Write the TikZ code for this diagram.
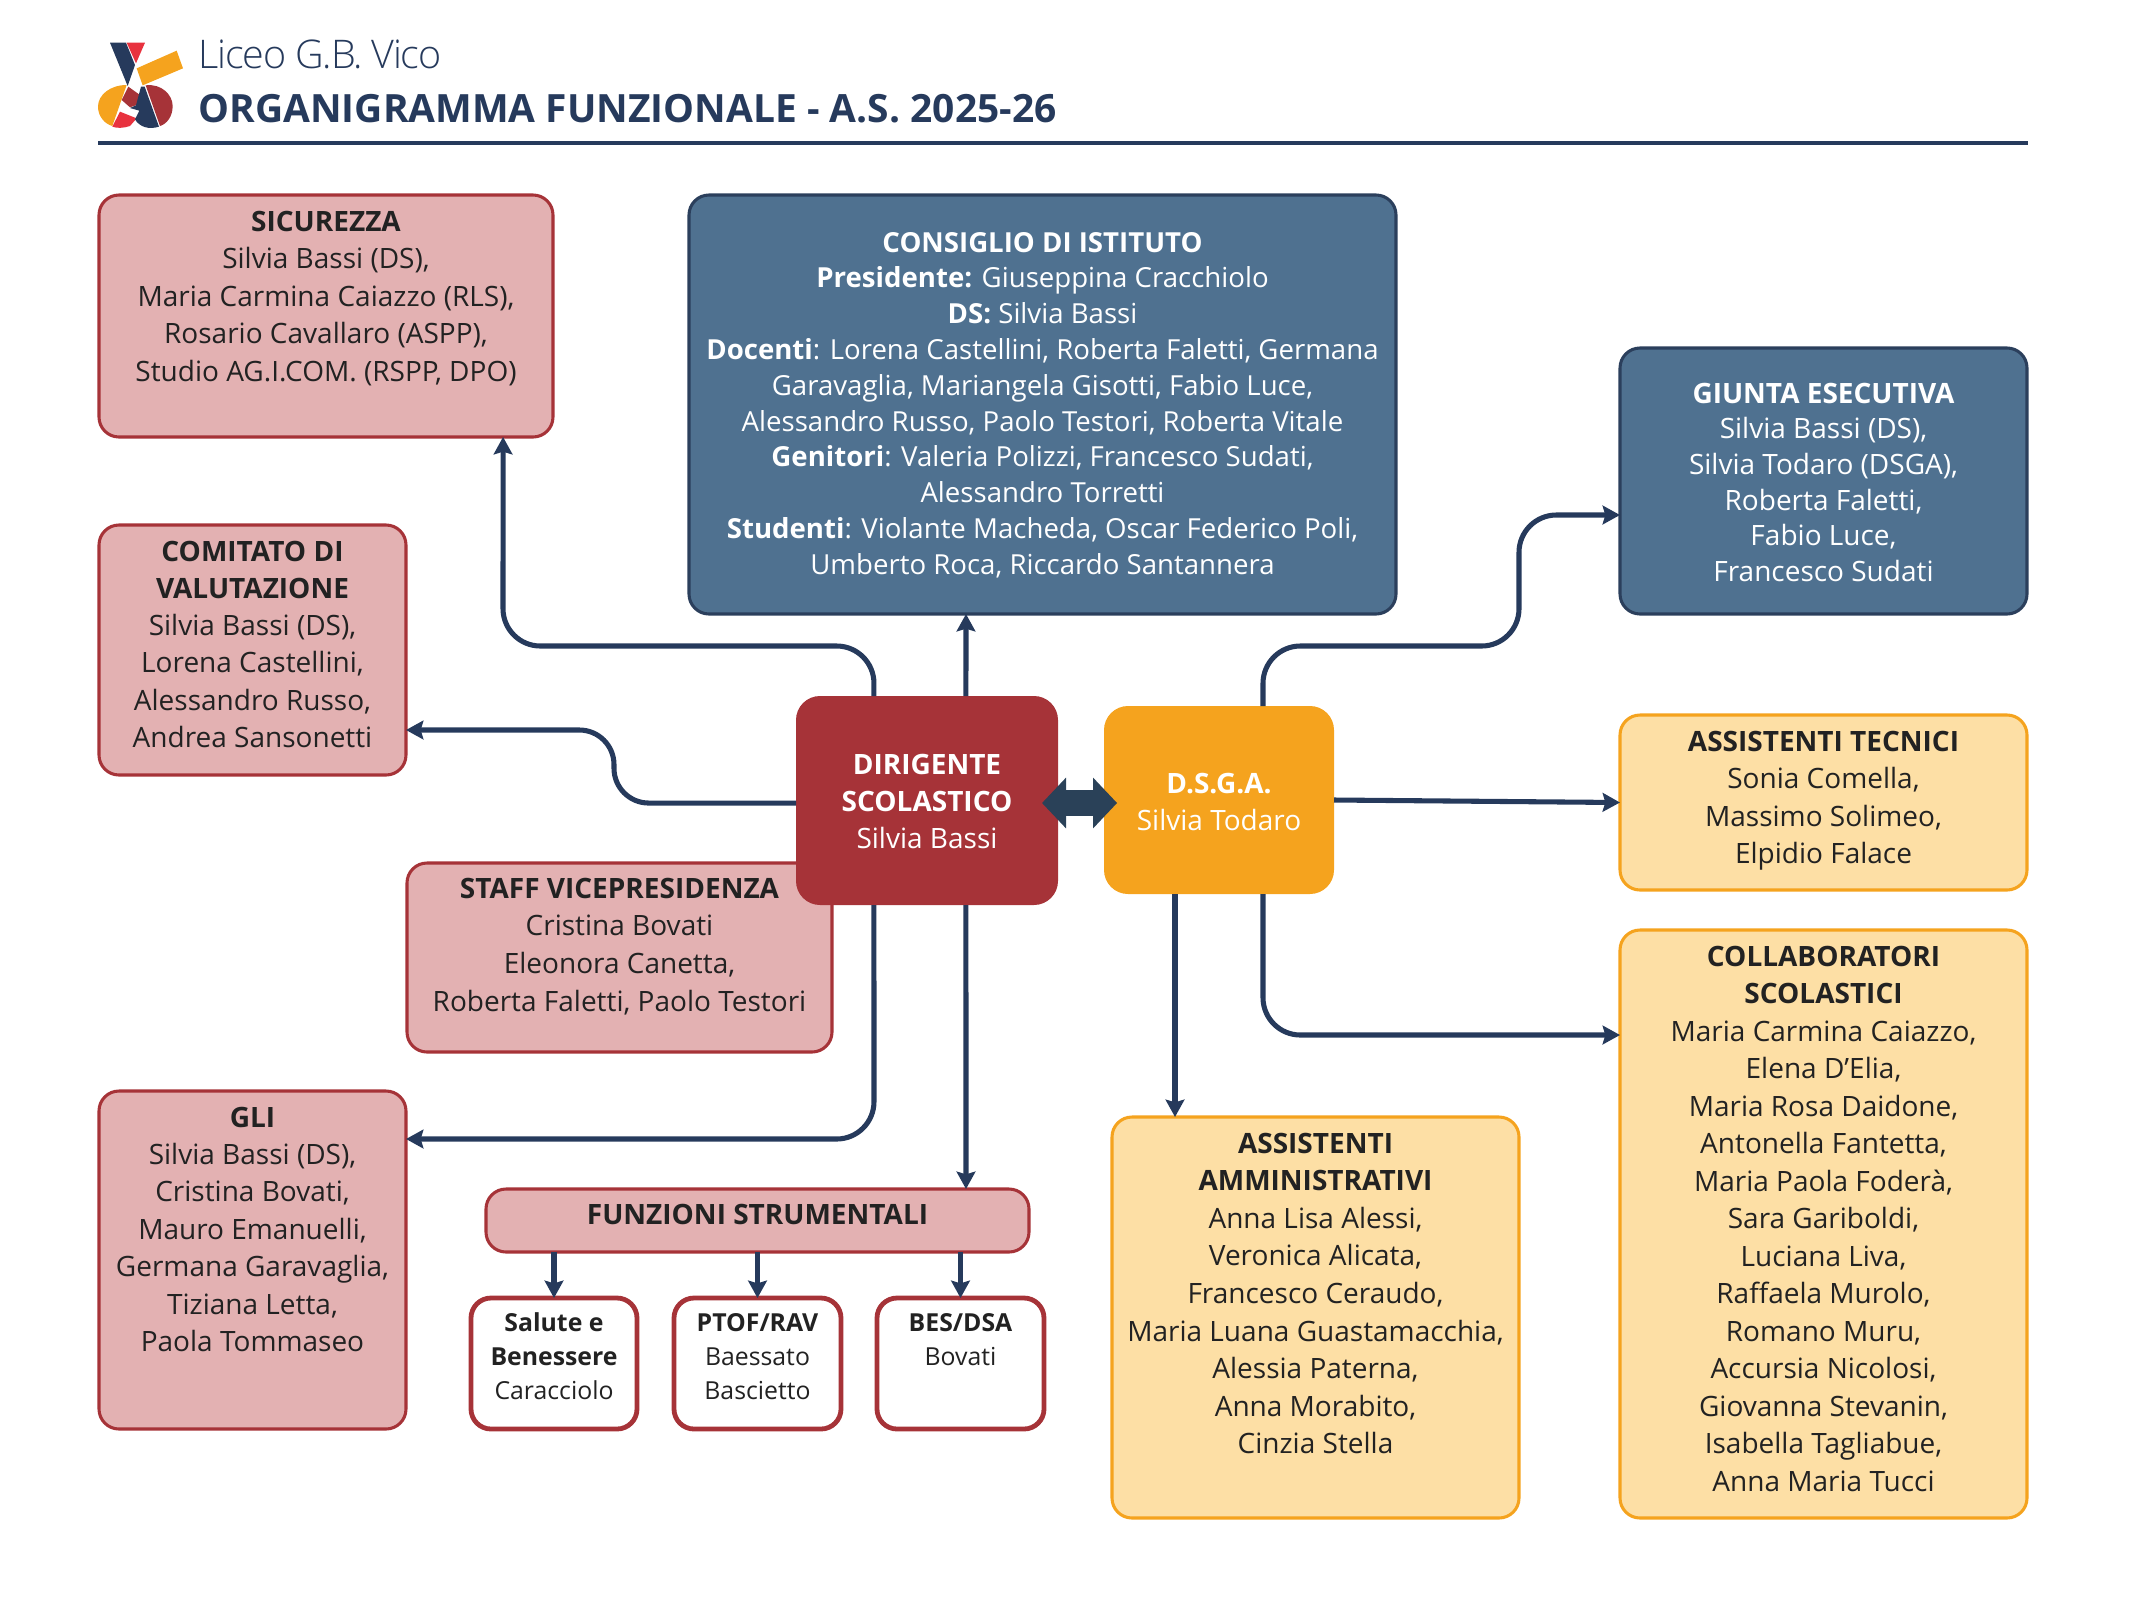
\documentclass[tikz,border=0pt]{standalone}
\usepackage{fontspec}
\setmainfont{Open Sans}
\newfontfamily\lightf[LetterSpace=-3]{Open Sans Light}
\usetikzlibrary{arrows.meta}
\definecolor{navy}{HTML}{263A5C}
\definecolor{steel}{HTML}{4F7190}
\definecolor{steeld}{HTML}{2B3F5C}
\definecolor{crimson}{HTML}{A63338}
\definecolor{pinkf}{HTML}{E3B1B2}
\definecolor{orangef}{HTML}{F5A31E}
\definecolor{yellowf}{HTML}{FDDFA5}
\definecolor{ink}{HTML}{222222}
\definecolor{logored}{HTML}{E8323E}
\definecolor{linkc}{HTML}{2A4158}
\def\U{0.375}
% name, style, x1, y1, x2, y2, first baseline, leading, text
\newcommand\bx[9]{%
  \pgfmathsetmacro\ww{(#5-#3)*\U}\pgfmathsetmacro\hh{(#6-#4)*\U}%
  \pgfmathsetmacro\ld{#8*\U}\pgfmathsetmacro\tp{(#7-#4)*\U-0.7*#8*\U}%
  \node[#2,minimum width=\ww pt,minimum height=\hh pt] (#1) at ({(#3+#5)/2},{(#4+#6)/2})
    {\parbox[c][\hh pt][t]{\ww pt}{\centering\fontsize{\sizept}{\ld pt}\selectfont\vspace*{\tp pt}\strut #9}};%
}
\def\sizept{10.5}
\tikzset{
  x=0.375pt,y=-0.375pt,
  card/.style={rectangle,rounded corners=7.5pt,inner sep=0pt,outer sep=0pt,line width=1.15pt,text=ink},
  pinkbox/.style={card,fill=pinkf,draw=crimson},
  bluebox/.style={card,fill=steel,draw=steeld,text=white},
  yellowbox/.style={card,fill=yellowf,draw=orangef},
  whitebox/.style={card,fill=white,draw=crimson,line width=1.8pt},
  redbox/.style={card,fill=crimson,text=white,rounded corners=9pt},
  orangebox/.style={card,fill=orangef,text=white,rounded corners=9pt},
  conn/.style={draw=navy,line width=1.9pt,-{Stealth[length=6.5pt,width=7pt,inset=1pt]}},
}
\begin{document}
\begin{tikzpicture}
\useasboundingbox (0,0) rectangle (2134,1600);
% logo
\begin{scope}[shift={(80,20)},x=0.125pt,y=-0.125pt]
\fill[navy] (90,68)--(138,68)--(165,135)--(143,198)--cycle;
\fill[logored] (140,68)--(195,68)--(168,130)--cycle;
\fill[orangef] (170,145)--(290,92)--(309,145)--(188,196)--cycle;
\fill[orangef] (140,195) .. controls (90,195) and (54,225) .. (54,260) .. controls (54,290) and (75,312) .. (97,318) -- cycle;
\fill[crimson] (197,196) .. controls (245,190) and (278,225) .. (278,258) .. controls (278,290) and (260,312) .. (240,318) -- cycle;
\fill[crimson] (145,200)--(180,225)--(185,250)--(150,262)--(125,240)--cycle;
\fill[logored] (120,275)--(170,295)--(150,318) .. controls (130,325) and (110,325) .. (97,320)--cycle;
\fill[navy] (183,200)--(194,200)--(237,320) .. controls (205,330) and (178,320) .. (165,298)--(178,272)--(150,264)--(168,256)--cycle;
\end{scope}
% header
\node[anchor=base west,inner sep=0pt,text=navy,font=\lightf\fontsize{14.8}{14.8}\selectfont] (school) at (198,68) {Liceo G.B. Vico};
\node[anchor=base west,inner sep=0pt,text=navy,font=\bfseries\fontsize{14.6}{14.6}\selectfont] (title) at (198,122) {ORGANIGRAMMA FUNZIONALE - A.S. 2025-26};
\fill[navy] (98,141) rectangle (2028,145);
% boxes
\bx{sic}{pinkbox}{99}{195}{553}{437}{231.5}{37.4}{\textbf{SICUREZZA}\\Silvia Bassi (DS),\\Maria Carmina Caiazzo (RLS),\\Rosario Cavallaro (ASPP),\\Studio AG.I.COM. (RSPP, DPO)}
\def\sizept{10.35}
\bx{con}{bluebox}{689}{195}{1396}{614}{252}{35.8}{\textbf{CONSIGLIO DI ISTITUTO}\\\textbf{Presidente:} Giuseppina Cracchiolo\\\textbf{DS:} Silvia Bassi\\\textbf{Docenti}: Lorena Castellini, Roberta Faletti, Germana\\Garavaglia, Mariangela Gisotti, Fabio Luce,\\Alessandro Russo, Paolo Testori, Roberta Vitale\\\textbf{Genitori}: Valeria Polizzi, Francesco Sudati,\\Alessandro Torretti\\\textbf{Studenti}: Violante Macheda, Oscar Federico Poli,\\Umberto Roca, Riccardo Santannera}
\def\sizept{10.5}
\bx{giu}{bluebox}{1620}{348}{2027}{614}{403}{35.7}{\textbf{GIUNTA ESECUTIVA}\\Silvia Bassi (DS),\\Silvia Todaro (DSGA),\\Roberta Faletti,\\Fabio Luce,\\Francesco Sudati}
\bx{com}{pinkbox}{99}{525}{406}{775}{561}{37.3}{\textbf{COMITATO DI}\\\textbf{VALUTAZIONE}\\Silvia Bassi (DS),\\Lorena Castellini,\\Alessandro Russo,\\Andrea Sansonetti}
\bx{sta}{pinkbox}{407}{863}{832}{1052}{898}{37.7}{\textbf{STAFF VICEPRESIDENZA}\\Cristina Bovati\\Eleonora Canetta,\\Roberta Faletti, Paolo Testori}
\bx{dir}{redbox}{796}{696}{1058}{905}{774}{37.4}{\textbf{DIRIGENTE}\\\textbf{SCOLASTICO}\\Silvia Bassi}
\bx{dsg}{orangebox}{1104}{706}{1334}{894}{793}{37}{\textbf{D.S.G.A.}\\Silvia Todaro}
\bx{tec}{yellowbox}{1620}{715}{2027}{890}{751}{37.6}{\textbf{ASSISTENTI TECNICI}\\Sonia Comella,\\Massimo Solimeo,\\Elpidio Falace}
\bx{col}{yellowbox}{1620}{930}{2027}{1518}{966}{37.5}{\textbf{COLLABORATORI}\\\textbf{SCOLASTICI}\\Maria Carmina Caiazzo,\\Elena D'Elia,\\Maria Rosa Daidone,\\Antonella Fantetta,\\Maria Paola Foderà,\\Sara Gariboldi,\\Luciana Liva,\\Raffaela Murolo,\\Romano Muru,\\Accursia Nicolosi,\\Giovanna Stevanin,\\Isabella Tagliabue,\\Anna Maria Tucci}
\bx{amm}{yellowbox}{1112}{1117}{1519}{1518}{1153}{37.6}{\textbf{ASSISTENTI}\\\textbf{AMMINISTRATIVI}\\Anna Lisa Alessi,\\Veronica Alicata,\\Francesco Ceraudo,\\Maria Luana Guastamacchia,\\Alessia Paterna,\\Anna Morabito,\\Cinzia Stella}
\bx{gli}{pinkbox}{99}{1091}{406}{1429}{1127}{37.4}{\textbf{GLI}\\Silvia Bassi (DS),\\Cristina Bovati,\\Mauro Emanuelli,\\Germana Garavaglia,\\Tiziana Letta,\\Paola Tommaseo}
\bx{fun}{pinkbox}{486}{1189}{1029}{1252}{1224}{37}{\textbf{FUNZIONI STRUMENTALI}}
\def\sizept{9.3}
\bx{sal}{whitebox}{471}{1298}{637}{1429}{1331}{34}{\textbf{Salute e}\\\textbf{Benessere}\\Caracciolo}
\bx{pto}{whitebox}{674}{1298}{841}{1429}{1331}{34}{\textbf{PTOF/RAV}\\Baessato\\Bascietto}
\bx{bes}{whitebox}{877}{1298}{1044}{1429}{1331}{34}{\textbf{BES/DSA}\\Bovati}
% connectors
\draw[conn,rounded corners=14pt] ([xshift=-19.9pt]dir.north) -- (874,646) -- (503,646) -- ([xshift=66.4pt]sic.south);
\draw[conn] ([xshift=14.6pt]dir.north) -- (con.south -| 966,0);
\draw[conn,rounded corners=13pt] ([yshift=-1pt]dir.west) -- (614,803) -- (614,730) -- (com.east |- 0,730);
\draw[conn,rounded corners=14pt] ([xshift=-19.9pt]dir.south) -- (874,1139) -- (gli.east |- 0,1139);
\draw[conn] ([xshift=14.6pt]dir.south) -- (fun.north -| 966,0);
\draw[conn,rounded corners=14pt] (dsg.north -| 1263,0) -- (1263,646) -- (1519,646) -- (1519,515) -- (giu.west |- 0,515);
\draw[conn] (dsg.east) -- (tec.west);
\draw[conn] (dsg.south -| 1175,0) -- (amm.north -| 1175,0);
\draw[conn,rounded corners=14pt] (dsg.south -| 1263,0) -- (1263,1035) -- (col.west |- 0,1035);
\draw[conn] (fun.south -| sal.north) -- (sal.north);
\draw[conn] (fun.south -| pto.north) -- (pto.north);
\draw[conn] (fun.south -| bes.north) -- (bes.north);
\draw[draw=linkc,line width=9.5pt,{Triangle[length=9pt,width=18.5pt]}-{Triangle[length=9pt,width=18.5pt]},shorten <=-6pt,shorten >=-4.9pt] (dir.east |- 0,803) -- (dsg.west |- 0,803);
\end{tikzpicture}
\end{document}
